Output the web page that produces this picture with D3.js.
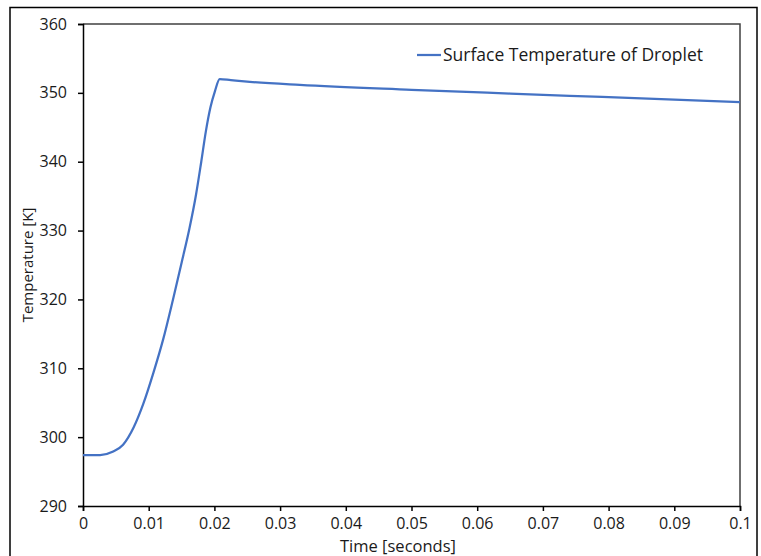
<!DOCTYPE html>
<html>
<head>
<meta charset="utf-8">
<script src="https://cdn.jsdelivr.net/npm/d3@7"></script>
<style>
  body { margin: 0; background: #fff; }
  text { font-family: "Open Sans", "Liberation Sans", sans-serif; fill: #1a1a1a; }
</style>
</head>
<body>
<div id="chart"></div>
<script>
// values
var timeSec = [0, 0.0026, 0.0046, 0.0061, 0.0077, 0.0092, 0.0107, 0.0122, 0.0137, 0.0150, 0.0162,
               0.0172, 0.0180, 0.0187, 0.0194, 0.0201, 0.0208, 0.0225, 0.0254, 0.033, 0.05, 0.065, 0.079, 0.1];
var tempK = [297.4, 297.4, 297.9, 298.9, 301.4, 304.9, 309.3, 314.2, 320.0, 325.3, 330.3,
             335.2, 340.0, 344.4, 347.9, 350.3, 352.0, 351.85, 351.6, 351.15, 350.45, 349.9, 349.4, 348.65];
var xTicks = [0, 0.01, 0.02, 0.03, 0.04, 0.05, 0.06, 0.07, 0.08, 0.09, 0.1];
var yTicks = [290, 300, 310, 320, 330, 340, 350, 360];
var seriesName = "Surface Temperature of Droplet";

var W = 761, H = 556;
var pLeft = 83, pRight = 740, pTop = 24, pBottom = 506;

var svg = d3.select("#chart")
            .append("svg")
            .attr("width", W)
            .attr("height", H);

// outer chart border
svg.append("rect")
   .attr("x", 10).attr("y", 7.5)
   .attr("width", 747).attr("height", 560)
   .attr("fill", "#fff")
   .attr("stroke", "#000")
   .attr("stroke-width", 1.5);

var x = d3.scaleLinear().domain([0, 0.1]).range([pLeft, pRight]);
var y = d3.scaleLinear().domain([290, 360]).range([pBottom, pTop]);

// frame top and right
svg.append("path")
   .attr("d", "M" + pLeft + "," + pTop + "H" + pRight + "V" + pBottom)
   .attr("fill", "none")
   .attr("stroke", "#404040")
   .attr("stroke-width", 1.5);

var yAxis = svg.append("g")
   .attr("transform", "translate(" + pLeft + ",0)")
   .call(d3.axisLeft(y).tickValues(yTicks).tickSize(5).tickPadding(11).tickFormat(d3.format("d")));

var xAxis = svg.append("g")
   .attr("transform", "translate(0," + pBottom + ")")
   .call(d3.axisBottom(x).tickValues(xTicks).tickSize(5).tickPadding(7)
         .tickFormat(function(d) { return d === 0 ? "0" : String(+d.toFixed(2)); }));

[xAxis, yAxis].forEach(function(g) {
  g.select(".domain").attr("stroke", "#000").attr("stroke-width", 1.5);
  g.selectAll(".tick line").attr("stroke", "#000").attr("stroke-width", 1.5);
  g.selectAll(".tick text")
   .style("font-family", "\"Open Sans\", sans-serif")
   .style("font-size", "16px")
   .attr("fill", "#1a1a1a");
});

// data line
var line = d3.line()
             .x(function(d, i) { return x(timeSec[i]); })
             .y(function(d) { return y(d); })
             .curve(d3.curveMonotoneX);

svg.append("path")
   .attr("d", line(tempK))
   .attr("fill", "none")
   .attr("stroke", "#4472C4")
   .attr("stroke-width", 2.25)
   .attr("stroke-linejoin", "round");

// axis titles
svg.append("text")
   .attr("x", 398).attr("y", 552)
   .attr("text-anchor", "middle")
   .style("font-size", "16.5px")
   .text("Time [seconds]");

svg.append("text")
   .attr("transform", "translate(33," + ((pTop + pBottom) / 2) + ") rotate(-90)")
   .attr("text-anchor", "middle")
   .style("font-size", "15px")
   .text("Temperature [K]");

// legend
svg.append("line")
   .attr("x1", 417).attr("x2", 441)
   .attr("y1", 55).attr("y2", 55)
   .attr("stroke", "#4472C4")
   .attr("stroke-width", 2.25);

svg.append("text")
   .attr("x", 443).attr("y", 61)
   .style("font-size", "17.5px")
   .text(seriesName);
</script>
</body>
</html>
